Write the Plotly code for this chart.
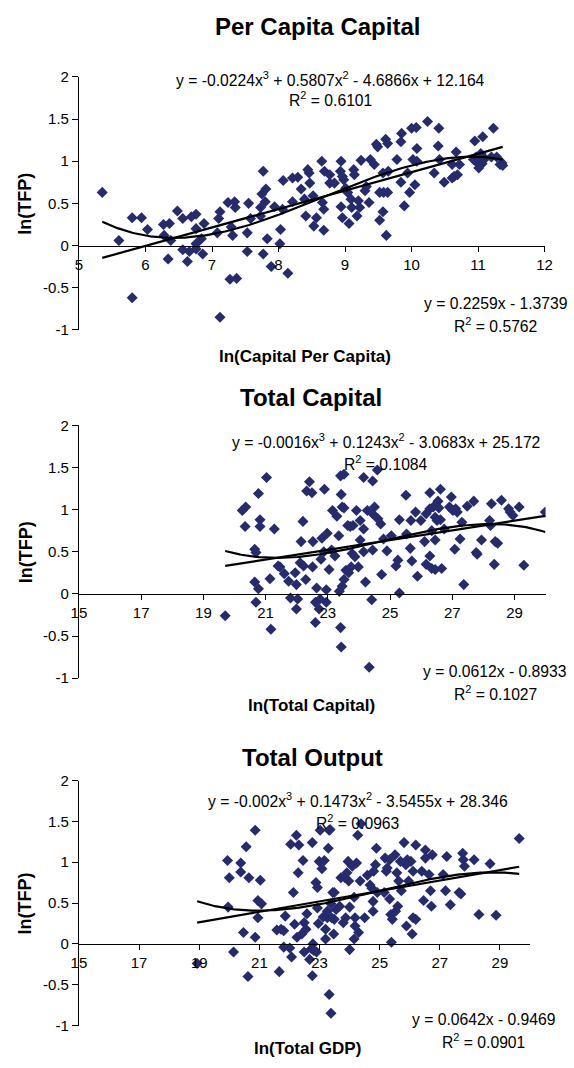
import numpy as np
import plotly.graph_objects as go

# ---------------- data ----------------
pc_x = [5.35, 5.60, 5.80, 5.80, 5.94, 6.03, 6.27, 6.28, 6.34, 6.36, 6.38, 6.48, 6.56, 6.56, 6.63, 6.66,
        6.69, 6.76, 6.76, 6.76, 6.76, 6.84, 6.86, 6.88, 7.10, 7.08, 7.12, 7.12, 7.24, 7.27, 7.29, 7.31,
        7.34, 7.35, 7.37, 7.53, 7.53, 7.55, 7.58, 7.73, 7.75, 7.73, 7.77, 7.77, 7.81, 7.80, 7.83, 7.89,
        7.94, 8.02, 8.03, 8.06, 8.07, 8.14, 8.21, 8.21, 8.29, 8.34, 8.39, 8.41, 8.44, 8.46, 8.47, 8.52,
        8.53, 8.57, 8.65, 8.66, 8.68, 8.68, 8.69, 8.77, 8.77, 8.84, 8.93, 8.94, 8.96, 8.94, 8.96, 8.98,
        9.01, 9.04, 9.06, 9.09, 9.10, 9.13, 9.14, 9.18, 9.20, 9.22, 9.24, 9.30, 9.32, 9.36, 9.38, 9.44,
        9.47, 9.49, 9.52, 9.52, 9.57, 9.57, 9.58, 9.61, 9.64, 9.62, 9.64, 9.65, 9.78, 9.84, 9.84, 9.85,
        9.89, 9.94, 9.97, 10.00, 10.02, 10.07, 10.05, 10.08, 10.24, 10.34, 10.40, 10.41, 10.42, 10.49,
        10.61, 10.61, 10.67, 10.69, 10.72, 10.93, 10.95, 10.97, 10.99, 11.01, 11.07, 11.04, 11.09, 11.23,
        11.20, 11.33, 11.36, 11.08, 11.03, 11.28, 11.37, 11.06, 10.64, 10.08]
pc_y = [0.63, 0.06, 0.33, -0.62, 0.33, 0.19, 0.25, 0.12, -0.16, 0.26, 0.06, 0.41, 0.32, -0.05, -0.19, -0.07,
        0.34, 0.37, 0.20, 0.02, -0.04, 0.08, -0.10, 0.26, 0.32, 0.15, 0.40, -0.85, 0.51, -0.40, 0.22, 0.12,
        0.52, 0.45, -0.39, -0.07, 0.15, 0.50, 0.32, 0.35, 0.61, 0.45, 0.88, -0.10, 0.67, 0.52, 0.08, -0.25,
        0.46, 0.02, 0.19, 0.43, 0.77, -0.33, 0.52, 0.80, 0.81, 0.67, 0.55, 0.35, 0.90, 0.86, 0.74, 0.59,
        0.23, 0.33, 1.00, 0.51, 0.43, 0.18, 0.88, 0.84, 0.74, 0.74, 0.88, 1.00, 0.82, 0.46, 0.33, 0.78,
        0.68, 0.63, 0.26, 0.55, 0.45, 0.90, 0.84, 0.35, 0.53, 0.45, 1.01, 0.65, 0.70, 0.51, 1.02, 0.96,
        1.20, 1.17, 0.63, 0.30, 0.40, 0.86, 0.63, 1.26, 1.21, 0.12, 0.63, 0.88, 1.02, 0.75, 1.23, 1.33,
        0.47, 0.86, 0.63, 1.39, 1.02, 1.40, 0.72, 1.15, 1.47, 0.86, 1.18, 1.39, 1.02, 0.75,
        0.96, 0.80, 1.11, 0.84, 0.96, 1.02, 1.24, 1.05, 0.98, 0.92, 1.29, 1.09, 1.02, 1.39,
        1.05, 0.96, 0.98, 1.05, 1.01, 1.05, 0.95, 0.97, 0.82, 1.00]

tc_x = [19.70, 20.25, 20.36, 20.34, 20.65, 20.69, 20.65, 20.69, 20.77, 20.77, 20.82, 20.82, 21.03, 21.14,
        21.17, 21.28, 21.40, 21.46, 21.60, 21.74, 21.80, 21.95, 21.99, 21.99, 22.03, 22.11, 22.14, 22.20,
        22.22, 22.29, 22.32, 22.41, 22.49, 22.52, 22.51, 22.60, 22.60, 22.64, 22.72, 22.75, 22.78, 22.81,
        22.87, 22.89, 22.95, 22.95, 22.98, 23.04, 23.12, 23.15, 23.23, 23.29, 23.35, 23.37, 23.41, 23.41,
        23.43, 23.46, 23.46, 23.52, 23.52, 23.43, 23.52, 23.58, 23.64, 23.67, 23.72, 23.75, 23.78, 23.81,
        23.87, 23.92, 23.98, 24.04, 24.04, 24.15, 24.15, 24.21, 24.27, 24.15, 24.33, 24.41, 24.44, 24.44,
        24.44, 24.50, 24.59, 24.61, 24.70, 24.73, 24.79, 24.90, 25.04, 25.19, 25.25, 25.30, 25.30, 25.51,
        25.53, 25.65, 25.67, 25.70, 25.82, 25.88, 25.99, 26.11, 26.16, 26.16, 26.28, 26.28, 26.28, 26.34,
        26.34, 26.39, 26.45, 26.45, 26.45, 26.54, 26.51, 26.57, 26.62, 26.62, 26.66, 26.74, 26.91, 26.97,
        27.02, 27.08, 27.11, 27.16, 27.25, 27.31, 27.37, 27.48, 27.69, 27.77, 27.80, 27.94, 28.23, 28.26,
        28.35, 28.38, 28.46, 28.58, 28.81, 28.86, 28.95, 29.15, 29.30, 29.99, 28.20]
tc_y = [-0.26, 0.99, 1.03, 0.80, 0.53, 0.49, 0.14, -0.10, 1.19, 0.06, 0.88, 0.80, 1.38, 0.18,
        -0.42, 0.77, 0.33, 0.32, 0.24, 0.15, -0.05, 0.25, 0.11, -0.18, -0.06, 0.37, 0.62, 0.86,
        0.33, 0.17, 1.22, 1.33, 1.20, 0.62, 0.32, -0.10, -0.34, 0.07, -0.18, -0.06, 0.41, 0.66,
        0.50, 1.24, -0.10, 0.05, 0.72, 0.29, 0.52, 0.99, 0.45, 0.92, 0.69, 0.03, -0.40, 1.40,
        1.18, 1.03, 0.09, 1.02, 1.42, -0.63, 0.17, 0.28, 0.81, 0.25, 0.80, 0.32, 0.48, 0.81,
        0.44, 0.99, 0.32, 0.87, 0.64, 1.38, 0.77, 0.14, 0.99, 0.50, -0.87, -0.07, 1.34, 0.95,
        0.52, 1.03, 1.47, 0.89, 0.83, 0.23, 0.65, 0.51, 0.69, 0.33, 0.40, 0.01, 0.88, 1.17,
        0.71, 0.54, 0.87, 0.39, 0.97, 0.21, 0.87, 0.62, 0.35, 0.95, 1.01, 1.20, 0.45, 0.30,
        0.75, 1.03, 0.64, 0.29, 0.91, 1.10, 0.87, 1.02, 1.24, 0.88, 0.30, 0.77, 1.03, 1.15,
        0.99, 0.53, 1.01, 0.97, 0.65, 0.85, 0.11, 1.04, 1.10, 0.49, 0.47, 0.64, 0.81, 1.07,
        0.35, 0.62, 0.60, 1.11, 1.01, 0.97, 0.93, 1.03, 0.34, 0.97, 0.87]

to_x = [18.93, 19.94, 20.00, 19.96, 20.14, 20.38, 20.38, 20.47, 20.56, 20.62, 20.65, 20.86, 20.86, 20.95,
        20.95, 21.03, 21.07, 21.58, 21.66, 21.72, 21.81, 21.86, 21.81, 22.01, 22.04, 22.07, 22.13, 22.17,
        22.23, 22.25, 22.29, 22.31, 22.41, 22.45, 22.49, 22.49, 22.55, 22.58, 22.67, 22.73, 22.76, 22.76,
        22.78, 22.81, 22.88, 22.90, 22.93, 22.93, 22.96, 22.99, 23.02, 23.08, 23.12, 23.16, 23.20, 23.20,
        23.26, 23.26, 23.29, 23.32, 23.32, 23.35, 23.38, 23.38, 23.40, 23.44, 23.47, 23.49, 23.49, 23.55,
        23.67, 23.71, 23.79, 23.85, 23.87, 23.91, 23.95, 23.97, 24.00, 24.00, 24.09, 24.15, 24.15, 24.18,
        24.18, 24.23, 24.27, 24.30, 24.35, 24.38, 24.50, 24.59, 24.68, 24.74, 24.78, 24.78, 24.80, 24.86,
        24.89, 24.92, 25.15, 25.18, 25.22, 25.25, 25.33, 25.33, 25.37, 25.39, 25.42, 25.51, 25.53, 25.57,
        25.60, 25.63, 25.69, 25.72, 25.81, 25.87, 25.89, 25.92, 25.96, 26.04, 26.08, 26.11, 26.11, 26.20,
        26.20, 26.40, 26.46, 26.52, 26.52, 26.64, 26.69, 26.72, 26.75, 27.11, 27.19, 27.23, 27.35, 27.64,
        27.70, 27.76, 27.78, 27.82, 28.14, 28.30, 28.67, 28.87, 29.64]
to_y = [-0.24, 1.02, 0.81, 0.45, -0.10, 0.99, 0.88, 0.14, 1.19, -0.40, 0.81, 1.39, 0.08, 0.53,
        0.32, 0.78, 0.49, 0.17, -0.34, 0.18, 0.16, 0.34, -0.04, -0.05, 1.22, -0.16, 0.63, 0.24,
        1.33, 0.08, 0.87, 1.21, 0.12, 1.02, 0.26, -0.10, 0.18, 0.37, -0.19, -0.06, 1.24, -0.39,
        0.00, -0.08, 0.75, -0.10, 0.44, 0.69, 0.25, 1.01, 1.39, 0.92, 0.33, 1.02, 0.18, 0.06,
        0.32, 0.40, 1.17, -0.62, 1.39, 1.40, -0.85, 0.49, 0.32, 0.63, 0.12, 0.63, 0.30, 0.42,
        0.46, 0.81, 0.26, 0.81, 0.32, 0.87, 1.01, 0.77, 0.45, -0.07, 0.95, 0.57, 0.06, 0.22,
        0.32, 0.99, 1.33, 0.14, 0.77, 1.47, 0.32, 0.84, 0.72, 0.68, 0.40, 0.52, 0.89, 0.97,
        1.17, 0.63, 0.63, 1.05, 0.89, 0.93, 0.55, 1.03, 0.36, 0.02, 0.30, 1.09, 0.40, 0.87,
        0.46, 0.77, 1.01, 0.65, 1.24, 0.97, 0.22, 1.03, 0.77, 1.01, 0.12, 0.89, 0.32, 1.21,
        0.30, 0.89, 0.53, 1.15, 1.05, 0.85, 0.65, 0.46, 1.09, 0.85, 0.65, 1.07, 0.48, 0.63,
        0.61, 1.11, 1.03, 0.95, 1.03, 0.36, 0.98, 0.35, 1.29]

titles = ["Per Capita Capital", "Total Capital", "Total Output"]
x_titles = ["ln(Capital Per Capita)", "ln(Total Capital)", "ln(Total GDP)"]
y_title = "ln(TFP)"
cubic_eq = ["y = -0.0224x<sup>3</sup> + 0.5807x<sup>2</sup> - 4.6866x + 12.164",
            "y = -0.0016x<sup>3</sup> + 0.1243x<sup>2</sup> - 3.0683x + 25.172",
            "y = -0.002x<sup>3</sup> + 0.1473x<sup>2</sup> - 3.5455x + 28.346"]
cubic_r2 = ["R<sup>2</sup> = 0.6101", "R<sup>2</sup> = 0.1084", "R<sup>2</sup> = 0.0963"]
lin_eq = ["y = 0.2259x - 1.3739", "y = 0.0612x - 0.8933", "y = 0.0642x - 0.9469"]
lin_r2 = ["R<sup>2</sup> = 0.5762", "R<sup>2</sup> = 0.1027", "R<sup>2</sup> = 0.0901"]

y_ticks = [-1, -0.5, 0, 0.5, 1, 1.5, 2]
y_ticktext = ["-1", "-0.5", "0", "0.5", "1", "1.5", "2"]
x_ticks_1 = [5, 6, 7, 8, 9, 10, 11, 12]
x_ticks_2 = [15, 17, 19, 21, 23, 25, 27, 29]

# ---------------- layout ----------------
W, H = 574, 1068
def fx(p): return p / W
def fy(p): return 1 - p / H

FONT = "Liberation Sans, Arial, sans-serif"
MARK = "#262b70"

panels = [
    dict(x=pc_x, y=pc_y, xr=[5, 12], xt=x_ticks_1, left=73, right=552, top=69, bot=326,
         title=(318, 18), xtitle=(306, 353), cub=(332, 71, 91), lin=(501, 299, 321)),
    dict(x=tc_x, y=tc_y, xr=[15, 30], xt=x_ticks_2, left=73, right=553, top=423, bot=680,
         title=(312, 395), xtitle=(312, 708), cub=(389, 439, 461), lin=(501, 673, 695)),
    dict(x=to_x, y=to_y, xr=[15, 30], xt=x_ticks_2, left=73, right=537, top=784, bot=1033,
         title=(313, 761), xtitle=(308, 1056), cub=(360, 804, 826), lin=(489, 1027, 1049)),
]

fig = go.Figure()
annotations = []
lay = {}

def ann(text, x, y, size, angle=0):
    return dict(text=text, x=fx(x), y=fy(y), xref="paper", yref="paper", showarrow=False,
                xanchor="center", yanchor="middle", textangle=angle,
                font=dict(family=FONT, size=size, color="black"))

for i, p in enumerate(panels, start=1):
    xa = "x" if i == 1 else f"x{i}"
    ya = "y" if i == 1 else f"y{i}"
    xk = "xaxis" if i == 1 else f"xaxis{i}"
    yk = "yaxis" if i == 1 else f"yaxis{i}"
    xs = np.array(p["x"]); ys = np.array(p["y"])
    fig.add_trace(go.Scatter(x=xs, y=ys, mode="markers", xaxis=xa, yaxis=ya,
                             marker=dict(symbol="diamond", size=8.5, color=MARK,
                                         line=dict(width=0)), showlegend=False))
    xl = np.linspace(xs.min(), xs.max(), 200)
    c1 = np.polyfit(xs, ys, 1)
    c3 = np.polyfit(xs, ys, 3)
    fig.add_trace(go.Scatter(x=xl, y=np.polyval(c3, xl), mode="lines", xaxis=xa, yaxis=ya,
                             line=dict(color="black", width=2.2), showlegend=False))
    fig.add_trace(go.Scatter(x=xl, y=np.polyval(c1, xl), mode="lines", xaxis=xa, yaxis=ya,
                             line=dict(color="black", width=2.2), showlegend=False))
    d0, d1 = fy(p["bot"]), fy(p["top"])
    zero_pos = d0 + (0 - (-1)) / 3 * (d1 - d0)
    lay[xk] = dict(domain=[fx(p["left"]), fx(p["right"])], range=p["xr"], anchor="free",
                   position=zero_pos, showline=True, linecolor="black", linewidth=1,
                   ticks="outside", ticklen=5, tickcolor="black", tickvals=p["xt"],
                   showgrid=False, zeroline=False,
                   tickfont=dict(family=FONT, size=15, color="black"))
    lay[yk] = dict(domain=[d0, d1], range=[-1, 2], anchor=xa, showline=True, linecolor="black",
                   linewidth=1, ticks="outside", ticklen=6, tickcolor="black",
                   tickvals=y_ticks, ticktext=y_ticktext, showgrid=False, zeroline=False,
                   tickfont=dict(family=FONT, size=15, color="black"))
    annotations.append(ann(f"<b>{titles[i-1]}</b>", *p["title"], 24))
    annotations.append(ann(f"<b>{x_titles[i-1]}</b>", *p["xtitle"], 17))
    annotations.append(ann(f"<b>{y_title}</b>", 18, (p["top"] + p["bot"]) / 2, 18, -90))
    cx, cy1, cy2 = p["cub"]
    annotations.append(ann(cubic_eq[i-1], cx, cy1, 15.7))
    annotations.append(ann(cubic_r2[i-1], cx, cy2, 15.7))
    lx, ly1, ly2 = p["lin"]
    annotations.append(ann(lin_eq[i-1], lx, ly1, 15.7))
    annotations.append(ann(lin_r2[i-1], lx, ly2, 15.7))

fig.update_layout(width=W, height=H, margin=dict(l=0, r=0, t=0, b=0),
                  paper_bgcolor="white", plot_bgcolor="white",
                  annotations=annotations, showlegend=False, **lay)
fig.write_html("out.html")
